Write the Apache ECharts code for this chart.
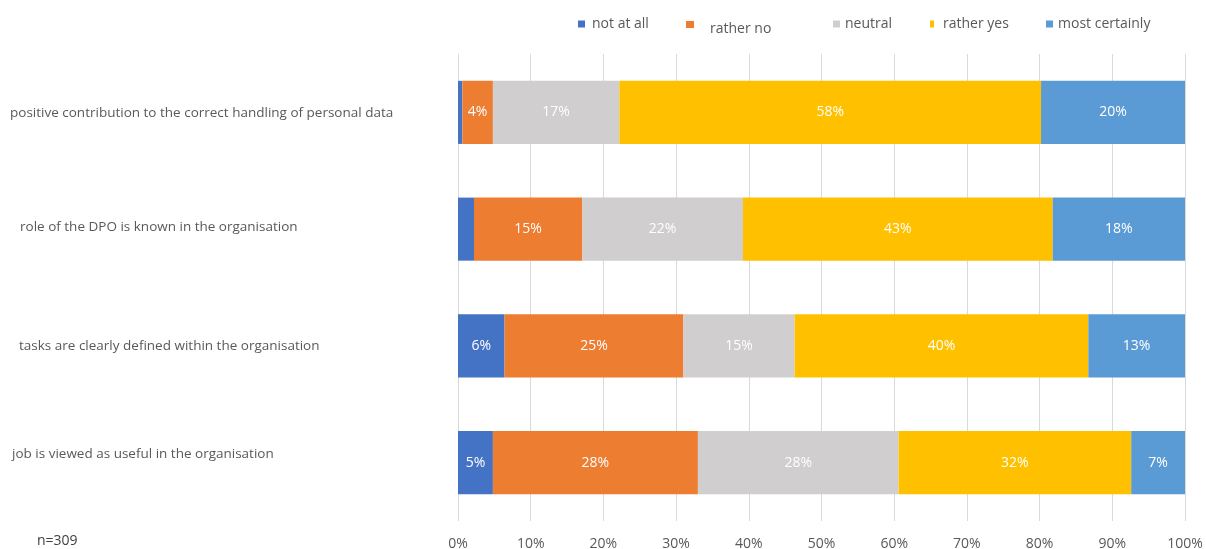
<!DOCTYPE html>
<html>
<head>
<meta charset="utf-8">
<title>DPO survey</title>
<script src="https://cdn.jsdelivr.net/npm/echarts@6/dist/echarts.min.js"></script>
<style>
  html, body { margin: 0; padding: 0; background: #ffffff; }
  #chart { width: 1206px; height: 549px; }
</style>
</head>
<body>
<div id="chart"></div>
<script>
// Statements rated by respondents (top to bottom)
const categories = [
  'positive contribution to the correct handling of personal data',
  'role of the DPO is known in the organisation',
  'tasks are clearly defined within the organisation',
  'job is viewed as useful in the organisation'
];

// Answer shares in percent, one array per answer, in category order
const notAtAll      = [0.6, 2.2, 6.4, 4.8];
const ratherNo      = [4.2, 14.9, 24.6, 28.2];
const neutral       = [17.4, 22.1, 15.3, 27.6];
const ratherYes     = [58.0, 42.6, 40.4, 32.0];
const mostCertainly = [19.8, 18.2, 13.3, 7.4];

const answerNames = ['not at all', 'rather no', 'neutral', 'rather yes', 'most certainly'];
const answerData = [notAtAll, ratherNo, neutral, ratherYes, mostCertainly];
const answerColors = ['#4472C4', '#ED7D31', '#D0CECE', '#FFC000', '#5B9BD5'];

const sampleNote = 'n=309';

const FONT = '"Open Sans", sans-serif';
const GREY_TEXT = '#595959';

// label offsets for each statement: [top, right, bottom, left] padding
const catPadding = [[1, 0, 0, 0], [0, 0, 4, 10], [1, 0, 0, 9], [0, 0, 17, 2]];
const catRich = {};
catPadding.forEach((pad, i) => {
  catRich['c' + i] = {
    fontFamily: FONT,
    fontSize: 13.5,
    color: GREY_TEXT,
    padding: pad
  };
});

// one legend block per answer so each entry sits at its own spot
const legendSpots = [
  { left: 578, top: 17, w: 7, pad: [0, 0, 0, 2] },
  { left: 686, top: 21, w: 8, pad: [10, 0, 0, 11] },
  { left: 833, top: 17, w: 7, pad: [0, 0, 0, 0] },
  { left: 930, top: 17, w: 4, pad: [0, 0, 0, 4] },
  { left: 1046, top: 17, w: 7, pad: [0, 0, 0, 0] }
];

const chart = echarts.init(document.getElementById('chart'), null, { renderer: 'canvas' });

const option = {
  backgroundColor: '#ffffff',
  animation: false,
  textStyle: { fontFamily: FONT },
  grid: {
    left: 458, right: 21, top: 54, bottom: 28,
    containLabel: false,
    outerBoundsMode: 'none'
  },
  legend: answerNames.map((name, i) => ({
    data: [name],
    left: legendSpots[i].left,
    top: legendSpots[i].top,
    padding: 0,
    icon: 'rect',
    itemWidth: legendSpots[i].w,
    itemHeight: 7,
    selectedMode: false,
    formatter: '{t|{name}}',
    textStyle: {
      fontFamily: FONT,
      fontSize: 14,
      color: GREY_TEXT,
      rich: {
        t: {
          fontFamily: FONT,
          fontSize: 14,
          color: GREY_TEXT,
          padding: legendSpots[i].pad
        }
      }
    }
  })),
  xAxis: {
    type: 'value',
    min: 0,
    max: 100,
    interval: 10,
    axisLine: { show: false },
    axisTick: { show: false },
    splitLine: { show: true, lineStyle: { color: '#D9D9D9', width: 1 } },
    axisLabel: {
      formatter: '{value}%',
      color: GREY_TEXT,
      fontFamily: FONT,
      fontSize: 14,
      margin: 16
    }
  },
  yAxis: {
    type: 'category',
    inverse: true,
    data: categories.map(c => ({ value: c, textStyle: { align: 'left' } })),
    axisLine: { show: false },
    axisTick: { show: false },
    axisLabel: {
      align: 'left',
      margin: 448,
      color: GREY_TEXT,
      fontFamily: FONT,
      fontSize: 13.5,
      formatter: (value, index) => '{c' + index + '|' + value + '}',
      rich: catRich
    }
  },
  series: answerNames.map((name, i) => ({
    name: name,
    type: 'bar',
    stack: 'total',
    barWidth: '54%',
    data: answerData[i],
    itemStyle: { color: answerColors[i] },
    label: {
      show: true,
      position: 'inside',
      color: '#ffffff',
      fontFamily: FONT,
      fontSize: 14,
      formatter: p => (p.value < 3 ? '' : Math.round(p.value) + '%')
    }
  })),
  graphic: [{
    type: 'text',
    left: 37,
    top: 534,
    style: {
      text: sampleNote,
      fill: '#404040',
      font: '14px ' + FONT
    }
  }]
};

chart.setOption(option);
</script>
</body>
</html>
